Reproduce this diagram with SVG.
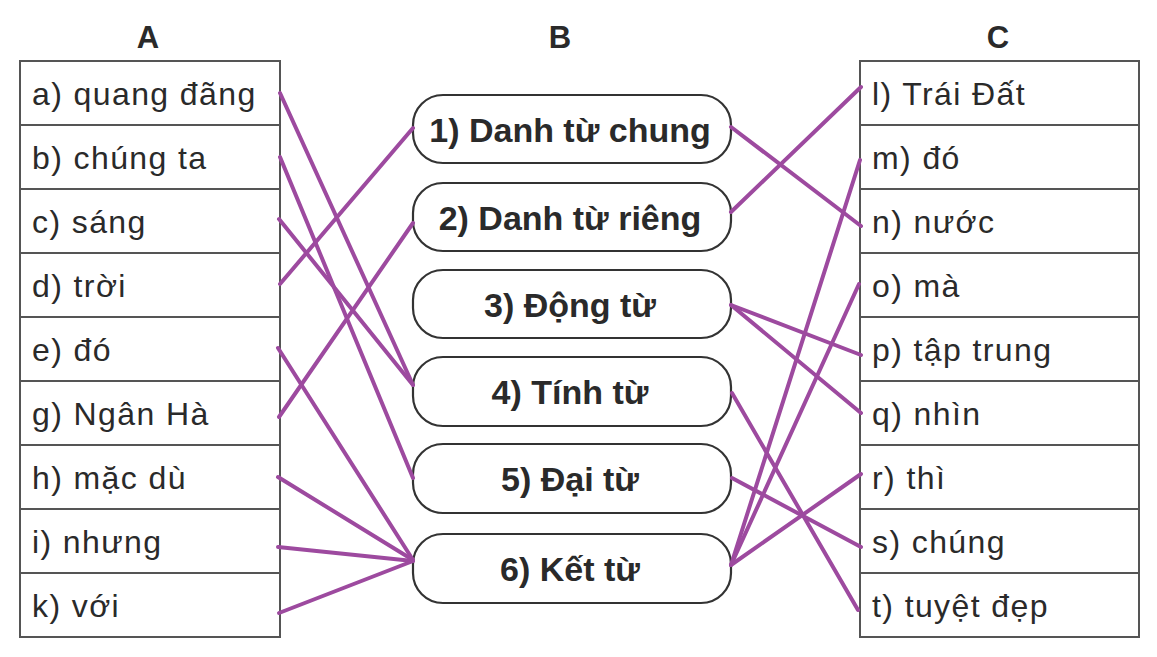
<svg xmlns="http://www.w3.org/2000/svg" width="1157" height="657" viewBox="0 0 1157 657">
<style>
.hdr{font-family:"Liberation Sans",Arial,sans-serif;font-weight:bold;font-size:31px;fill:#2a2a2a;text-anchor:middle}
.cell{fill:#fff;stroke:#555;stroke-width:2}
.it{font-family:"Liberation Sans",Arial,sans-serif;font-size:32px;letter-spacing:1.4px;fill:#2a2a2a}
.box{fill:#fff;stroke:#333;stroke-width:2.2}
.bt{font-family:"Liberation Sans",Arial,sans-serif;font-weight:bold;font-size:34px;fill:#2a2a2a;text-anchor:middle}
.ln{stroke:#9d4a9f;stroke-width:4;stroke-linecap:round;fill:none}
</style>
<rect width="1157" height="657" fill="#fff"/>
<g id="headers">
<text class="hdr" x="148" y="48">A</text>
<text class="hdr" x="560" y="48">B</text>
<text class="hdr" x="998" y="48">C</text>
</g>
<g id="colA">
<g id="a"><rect class="cell" x="20" y="61" width="260" height="64"/><text class="it" x="32" y="105">a) quang đãng</text></g>
<g id="b"><rect class="cell" x="20" y="125" width="260" height="64"/><text class="it" x="32" y="169">b) chúng ta</text></g>
<g id="c"><rect class="cell" x="20" y="189" width="260" height="64"/><text class="it" x="32" y="233">c) sáng</text></g>
<g id="d"><rect class="cell" x="20" y="253" width="260" height="64"/><text class="it" x="32" y="297">d) trời</text></g>
<g id="e"><rect class="cell" x="20" y="317" width="260" height="64"/><text class="it" x="32" y="361">e) đó</text></g>
<g id="g"><rect class="cell" x="20" y="381" width="260" height="64"/><text class="it" x="32" y="425">g) Ngân Hà</text></g>
<g id="h"><rect class="cell" x="20" y="445" width="260" height="64"/><text class="it" x="32" y="489">h) mặc dù</text></g>
<g id="i"><rect class="cell" x="20" y="509" width="260" height="64"/><text class="it" x="32" y="553">i) nhưng</text></g>
<g id="k"><rect class="cell" x="20" y="573" width="260" height="64"/><text class="it" x="32" y="617">k) với</text></g>
</g>
<g id="colC">
<g id="l"><rect class="cell" x="860" y="61" width="279" height="64"/><text class="it" x="872" y="105">l) Trái Đất</text></g>
<g id="m"><rect class="cell" x="860" y="125" width="279" height="64"/><text class="it" x="872" y="169">m) đó</text></g>
<g id="n"><rect class="cell" x="860" y="189" width="279" height="64"/><text class="it" x="872" y="233">n) nước</text></g>
<g id="o"><rect class="cell" x="860" y="253" width="279" height="64"/><text class="it" x="872" y="297">o) mà</text></g>
<g id="p"><rect class="cell" x="860" y="317" width="279" height="64"/><text class="it" x="872" y="361">p) tập trung</text></g>
<g id="q"><rect class="cell" x="860" y="381" width="279" height="64"/><text class="it" x="872" y="425">q) nhìn</text></g>
<g id="r"><rect class="cell" x="860" y="445" width="279" height="64"/><text class="it" x="872" y="489">r) thì</text></g>
<g id="s"><rect class="cell" x="860" y="509" width="279" height="64"/><text class="it" x="872" y="553">s) chúng</text></g>
<g id="t"><rect class="cell" x="860" y="573" width="279" height="64"/><text class="it" x="872" y="617">t) tuyệt đẹp</text></g>
</g>
<g id="colB">
<g id="b1"><rect class="box" x="413" y="95" width="318" height="68" rx="30"/><text class="bt" x="570" y="142">1) Danh từ chung</text></g>
<g id="b2"><rect class="box" x="413" y="183" width="318" height="68" rx="30"/><text class="bt" x="570" y="230">2) Danh từ riêng</text></g>
<g id="b3"><rect class="box" x="413" y="270" width="318" height="68" rx="30"/><text class="bt" x="570" y="317">3) Động từ</text></g>
<g id="b4"><rect class="box" x="413" y="357" width="318" height="69" rx="30"/><text class="bt" x="570" y="404">4) Tính từ</text></g>
<g id="b5"><rect class="box" x="413" y="444" width="318" height="69" rx="30"/><text class="bt" x="570" y="491">5) Đại từ</text></g>
<g id="b6"><rect class="box" x="413" y="534" width="318" height="69" rx="30"/><text class="bt" x="570" y="581">6) Kết từ</text></g>
</g>
<g id="connectors">
<line class="ln" x1="280" y1="93" x2="413" y2="385"/>
<line class="ln" x1="280" y1="157" x2="413" y2="478"/>
<line class="ln" x1="279" y1="219" x2="413" y2="385"/>
<line class="ln" x1="280" y1="284" x2="413" y2="128"/>
<line class="ln" x1="278" y1="348" x2="413" y2="560"/>
<line class="ln" x1="279" y1="417" x2="413" y2="223"/>
<line class="ln" x1="278" y1="477" x2="413" y2="560"/>
<line class="ln" x1="278" y1="547" x2="413" y2="561"/>
<line class="ln" x1="279" y1="613" x2="413" y2="561"/>
<line class="ln" x1="731" y1="127" x2="861" y2="226"/>
<line class="ln" x1="731" y1="212" x2="861" y2="87"/>
<line class="ln" x1="731" y1="305" x2="861" y2="355"/>
<line class="ln" x1="731" y1="305" x2="861" y2="413"/>
<line class="ln" x1="732" y1="393" x2="858" y2="610"/>
<line class="ln" x1="732" y1="478" x2="861" y2="547"/>
<line class="ln" x1="731" y1="565" x2="860" y2="160"/>
<line class="ln" x1="731" y1="565" x2="859" y2="284"/>
<line class="ln" x1="731" y1="565" x2="861" y2="474"/>
</g>
</svg>
